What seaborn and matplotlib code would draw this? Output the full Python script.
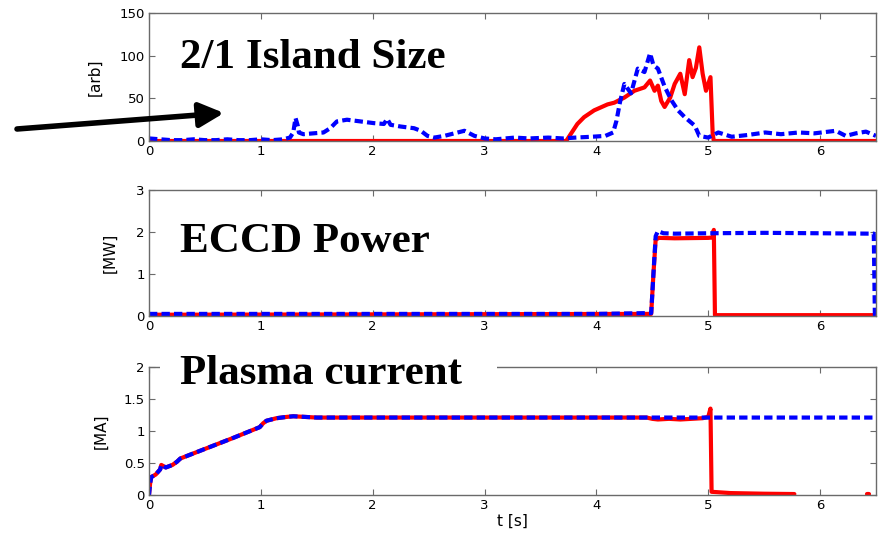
import matplotlib
matplotlib.use("Agg")
import matplotlib.pyplot as plt
import seaborn as sns
from matplotlib.patches import Rectangle

# --- data ---
# 2/1 island size [arb]
t_island_red = [0, 3.73, 3.83, 3.89, 3.98, 4.10, 4.16, 4.25, 4.34, 4.43, 4.48, 4.52, 4.55, 4.58,
                4.61, 4.66, 4.70, 4.75, 4.79, 4.83, 4.86, 4.89, 4.92, 4.95, 4.98, 5.02, 5.04, 5.05, 6.5]
island_red = [0, 0, 20, 28, 36, 43, 45, 51, 59, 63, 71, 59, 65, 47,
              40, 51, 67, 79, 55, 95, 75, 86, 110, 79, 59, 75, 8, 0, 0]

t_island_blue = [0, 0.1, 0.2, 0.3, 0.4, 0.5, 0.6, 0.7, 0.8, 0.9, 1.0, 1.1, 1.2,
                 1.26, 1.29, 1.31, 1.33, 1.34, 1.38, 1.47, 1.56, 1.62, 1.68,
                 1.77, 1.89, 2.01, 2.10, 2.13, 2.16, 2.25, 2.37, 2.43, 2.49,
                 2.55, 2.64, 2.70, 2.82, 2.91, 3.0, 3.1, 3.27, 3.4, 3.57,
                 3.7, 3.81, 3.96, 4.08, 4.15, 4.18, 4.21, 4.25, 4.31, 4.37,
                 4.43, 4.48, 4.51, 4.55, 4.61, 4.67, 4.73, 4.79, 4.88, 4.92,
                 5.0, 5.09, 5.21, 5.35, 5.51, 5.65, 5.81, 5.95, 6.14, 6.23,
                 6.32, 6.41, 6.5]
island_blue = [3, 2, 1, 1, 2, 1, 1, 2, 1, 1, 2, 1, 2,
               4, 10, 27, 18, 10, 8, 9, 10, 15, 23,
               25, 23, 21, 20, 26, 19, 17, 15, 12, 6,
               4, 6, 8, 12, 6, 3, 2, 4, 3, 4,
               3, 4, 5, 6, 10, 24, 45, 67, 56, 85,
               81, 103, 89, 85, 64, 48, 36, 28, 18, 6,
               4, 10, 5, 7, 10, 8, 10, 9, 12, 6,
               9, 11, 6]

# ECCD power [MW]
t_eccd_red = [0, 4.49, 4.51, 4.53, 4.56, 4.7, 5.0, 5.04, 5.05, 5.06, 6.5]
eccd_red = [0.03, 0.05, 1.0, 1.82, 1.86, 1.85, 1.86, 1.87, 2.05, 0.02, 0.02]
t_eccd_blue = [0, 1, 2, 3, 4, 4.49, 4.51, 4.53, 4.55, 4.6, 4.7, 5.0, 5.5, 6.0, 6.48, 6.49, 6.5]
eccd_blue = [0.05, 0.05, 0.05, 0.05, 0.05, 0.07, 1.0, 1.9, 2.02, 1.97, 1.96, 1.97, 1.98, 1.97, 1.96, 0.02, 0.02]

# plasma current [MA]
t_ip_blue = [0, 0.01, 0.02, 0.06, 0.1, 0.11, 0.15, 0.21, 0.25, 0.28, 0.5, 0.75, 0.99, 1.02,
             1.05, 1.14, 1.23, 1.29, 1.5, 2.0, 2.5, 3.0, 3.5, 4.0, 4.5, 5.0, 5.5, 6.0, 6.5]
ip_blue = [0, 0.18, 0.28, 0.32, 0.40, 0.47, 0.43, 0.47, 0.52, 0.57, 0.72, 0.89, 1.06, 1.12,
           1.16, 1.20, 1.22, 1.23, 1.21, 1.21, 1.21, 1.21, 1.21, 1.21, 1.21, 1.21, 1.21, 1.21, 1.21]
t_ip_red = [0, 0.01, 0.02, 0.06, 0.1, 0.11, 0.15, 0.21, 0.25, 0.28, 0.5, 0.75, 0.99, 1.02,
            1.05, 1.14, 1.23, 1.29, 1.5, 2.0, 2.5, 3.0, 3.5, 4.0, 4.45, 4.5, 4.55, 4.65, 4.75,
            4.85, 4.95, 5.0, 5.02, 5.03, 5.2, 5.5, 5.77]
ip_red = [0, 0.18, 0.28, 0.32, 0.40, 0.47, 0.43, 0.47, 0.52, 0.57, 0.72, 0.89, 1.06, 1.12,
          1.16, 1.20, 1.22, 1.23, 1.21, 1.21, 1.21, 1.21, 1.21, 1.21, 1.21, 1.19, 1.18, 1.19, 1.18,
          1.19, 1.20, 1.22, 1.35, 0.05, 0.03, 0.02, 0.015]
t_ip_red_tail = [6.42, 6.44]
ip_red_tail = [0.01, 0.01]

titles = ["2/1 Island Size", "ECCD Power", "Plasma current"]
ylabels = ["[arb]", "[MW]", "[MA]"]
yticks = [[0, 50, 100, 150], [0, 1, 2, 3], [0, 0.5, 1, 1.5, 2]]
ytick_labels = [["0", "50", "100", "150"], ["0", "1", "2", "3"], ["0", "0.5", "1", "1.5", "2"]]

sns.set_style("ticks")
plt.rcParams["font.family"] = ["DejaVu Sans"]
plt.rcParams["text.color"] = "black"
plt.rcParams["axes.labelcolor"] = "black"

RED = "#ff0000"
BLUE = "#0000ff"
dash = (0, (2.0, 1.0))

fig = plt.figure(figsize=(8.81, 5.35), dpi=100)
W, H = 881, 535
left, right = 149, 876
boxes = [(13.3, 141), (190, 316), (367, 495)]
label_x = [103, 118, 109]

axes = []
for (top, bot) in boxes:
    ax = fig.add_axes([left / W, 1 - bot / H, (right - left) / W, (bot - top) / H])
    axes.append(ax)

series = [
    [(t_island_red, island_red, RED, "-"), (t_island_blue, island_blue, BLUE, dash)],
    [(t_eccd_red, eccd_red, RED, "-"), (t_eccd_blue, eccd_blue, BLUE, dash)],
    [(t_ip_red, ip_red, RED, "-"), (t_ip_red_tail, ip_red_tail, RED, "-"),
     (t_ip_blue, ip_blue, BLUE, dash)],
]

for i, ax in enumerate(axes):
    for x, y, c, ls in series[i]:
        sns.lineplot(x=x, y=y, ax=ax, color=c, linestyle=ls, linewidth=3.0,
                     estimator=None, sort=False, legend=False)
    ax.set_xlim(0, 6.5)
    ax.set_ylim(yticks[i][0], yticks[i][-1])
    ax.set_xticks([0, 1, 2, 3, 4, 5, 6])
    ax.set_xticklabels(["0", "1", "2", "3", "4", "5", "6"])
    ax.set_yticks(yticks[i])
    ax.set_yticklabels(ytick_labels[i])
    for s in ax.spines.values():
        s.set_visible(True)
        s.set_color("#6a6a6a")
        s.set_linewidth(1.0)
    ax.tick_params(direction="in", top=True, right=True, length=4, width=0.8,
                   color="#6a6a6a", labelsize=9.5, labelcolor="black", pad=3)
    ax.set_ylabel(ylabels[i], fontsize=11)
    ax.yaxis.set_label_coords((label_x[i] - left) / (right - left), 0.5)
    ax.set_xlabel("")

axes[2].set_xlabel("t [s]", fontsize=11, labelpad=1)

# white patch hiding the top frame behind the last title
fig.add_artist(Rectangle((160 / W, 1 - 392 / H), (497 - 160) / W, 35 / H,
                         transform=fig.transFigure, facecolor="white", edgecolor="none", zorder=2))

title_y = [58, 242, 374]
for name, ty in zip(titles, title_y):
    fig.text(180 / W, 1 - ty / H, name, fontsize=31, fontweight="bold", color="black",
             family="Liberation Serif", ha="left", va="center", zorder=3)

axes[0].annotate("", xy=(224, H - 113), xycoords="figure pixels",
                 xytext=(17, H - 129), textcoords="figure pixels",
                 arrowprops=dict(arrowstyle="-|>,head_length=0.4,head_width=0.2",
                                 mutation_scale=37, lw=4, color="black",
                                 shrinkA=0, shrinkB=0),
                 annotation_clip=False)

fig.savefig("out.png", dpi=100)
